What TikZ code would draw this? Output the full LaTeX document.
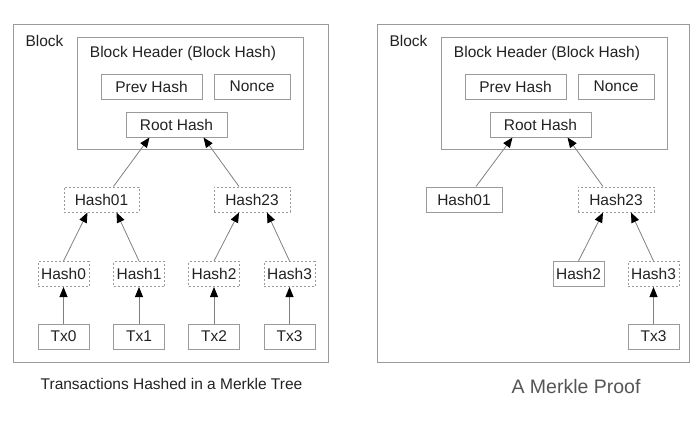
\documentclass[tikz,border=0pt]{standalone}
\usepackage{fontspec}
\setmainfont{Liberation Sans}
\usetikzlibrary{arrows.meta}
\definecolor{boxgray}{HTML}{9A9A9A}
\definecolor{linegray}{HTML}{808080}
\definecolor{txtgray}{HTML}{222222}
\definecolor{capgray}{HTML}{555555}
\begin{document}
\begin{tikzpicture}
        [x=1pt,y=-1pt,font=\fontsize{15.5}{18}\selectfont,
        boxdecorate/.style={shape=rectangle,draw=boxgray,line width=1pt,inner sep=0pt,minimum height=25pt,text=txtgray},
        dashdecorate/.style={boxdecorate,dash pattern=on 2pt off 2pt},
        arrowdecorate/.style={-{Triangle[length=10pt,width=8pt,color=black]},draw=linegray,line width=0.8pt}]
        \useasboundingbox (0,0) rectangle (700,423);
        %% blocks and headers
        \foreach \nodename/\x/\w/\title in {t/0/314.5/170.75, p/364/312/533}
        {
          \node (\nodename block) at (\title,193) [boxdecorate,minimum width=\w pt,minimum height=338pt] {};
          \node (\nodename label) at (44.5+\x,41) [text=txtgray] {Block};
          \node (\nodename header) at (190+\x,93) [boxdecorate,minimum width=226pt,minimum height=112pt] {};
          \node (\nodename title) at (183+\x,53) [text=txtgray] {Block Header (Block Hash)};
        }
        %% nodes or vertices
        \foreach \nodename/\x/\y/\w/\look/\text in {
          tprev/151.5/86.5/101/boxdecorate/Prev Hash, tnonce/252/86.5/76/boxdecorate/Nonce,
          troot/176.5/124.5/101/boxdecorate/Root Hash,
          th01/101.5/199.5/75/dashdecorate/Hash01, th23/252/199.5/76/dashdecorate/Hash23,
          th0/63.5/274/51/dashdecorate/Hash0, th1/139/274/51/dashdecorate/Hash1,
          th2/214/274/51/dashdecorate/Hash2, th3/289.5/274/51/dashdecorate/Hash3,
          ttx0/63.5/336.5/51/boxdecorate/Tx0, ttx1/139/336.5/51/boxdecorate/Tx1,
          ttx2/214/336.5/51/boxdecorate/Tx2, ttx3/289.5/336.5/51/boxdecorate/Tx3,
          pprev/515.5/86.5/101/boxdecorate/Prev Hash, pnonce/616/86.5/76/boxdecorate/Nonce,
          proot/540.5/124.5/101/boxdecorate/Root Hash,
          ph01/464/199.5/76/boxdecorate/Hash01, ph23/616/199.5/76/dashdecorate/Hash23,
          ph2/578.5/274/51/boxdecorate/Hash2, ph3/653.5/274/51/dashdecorate/Hash3,
          ptx3/653.5/336.5/51/boxdecorate/Tx3}
        {
          \node (\nodename) at (\x,\y) [\look,minimum width=\w pt] {\text};
        }
        %% edges or lines
        \foreach \startnode/\endnode/\a/\b in {th01/troot/12/-27, th23/troot/-13/27,
          th0/th01/0/-14, th1/th01/0/15, th2/th23/0/-13, th3/th23/0/15,
          ttx0/th0/0/0, ttx1/th1/0/0, ttx2/th2/0/0, ttx3/th3/0/0,
          ph01/proot/12/-28, ph23/proot/-13/27, ph2/ph23/0/-13, ph3/ph23/0/15, ptx3/ph3/0/0}
        {
          \draw[arrowdecorate] ([xshift=\a pt]\startnode.north) -- ([xshift=\b pt]\endnode.south);
        }
        %% captions
        \node (tcaption) at (171.5,384) [text=txtgray] {Transactions Hashed in a Merkle Tree};
        \node (pcaption) at (576,387) [text=capgray,font=\fontsize{19.5}{22}\selectfont] {A Merkle Proof};
      \end{tikzpicture}
\end{document}
